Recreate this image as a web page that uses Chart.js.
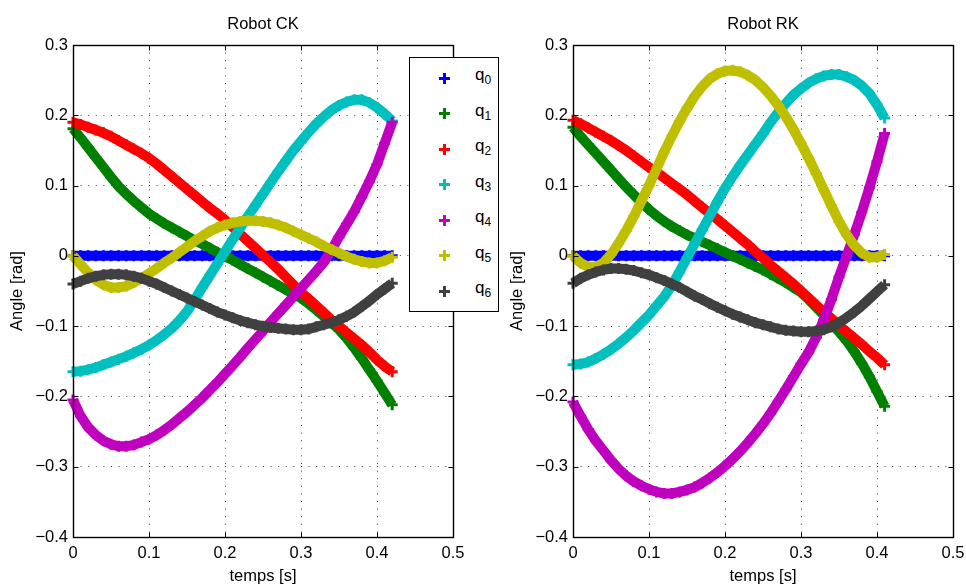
<!DOCTYPE html>
<html>
<head>
<meta charset="utf-8">
<script src="https://cdn.jsdelivr.net/npm/chart.js@4.4.1/dist/chart.umd.min.js"></script>
<style>
  body { margin:0; background:#fff; width:966px; height:586px; overflow:hidden; position:relative;
         font-family:'Liberation Sans', Arial, Helvetica, sans-serif; }
  .plot { position:absolute; top:0; width:466px; height:586px; }
  #legend { position:absolute; left:409px; top:57px; width:88px; height:253px; border:1px solid #000; background:#fff; }
  #legend .mk { position:absolute; left:29px; width:11px; height:11px; }
  #legend .lb { position:absolute; left:65px; font-size:17px; line-height:20px; color:#000; white-space:nowrap; }
  #legend sub { font-size:12px; vertical-align:-4px; line-height:0; }
</style>
</head>
<body>
<canvas id="ck" class="plot" style="left:0" width="466" height="586"></canvas>
<canvas id="rk" class="plot" style="left:500px" width="466" height="586"></canvas>
<div id="legend"></div>
<script>
// time samples (s)
const T_CK = [0,0.01,0.02,0.03,0.04,0.05,0.06,0.07,0.08,0.09,0.10,0.11,0.12,0.13,0.14,0.15,0.16,0.17,0.18,0.19,0.20,0.21,0.22,0.23,0.24,0.25,0.26,0.27,0.28,0.29,0.30,0.31,0.32,0.33,0.34,0.35,0.36,0.37,0.38,0.39,0.40,0.41,0.42];
const T_RK = [0,0.01,0.02,0.03,0.04,0.05,0.06,0.07,0.08,0.09,0.10,0.11,0.12,0.13,0.14,0.15,0.16,0.17,0.18,0.19,0.20,0.21,0.22,0.23,0.24,0.25,0.26,0.27,0.28,0.29,0.30,0.31,0.32,0.33,0.34,0.35,0.36,0.37,0.38,0.39,0.40,0.41];

// Robot CK joint angles (rad)
const CK_Q0 = [0,0,0,0,0,0,0,0,0,0,0,0,0,0,0,0,0,0,0,0,0,0,0,0,0,0,0,0,0,0,0,0,0,0,0,0,0,0,0,0,0,0,0];
const CK_Q1 = [0.181,0.168,0.154,0.140,0.126,0.112,0.099,0.088,0.078,0.069,0.060,0.053,0.046,0.040,0.034,0.028,0.022,0.017,0.011,0.005,-0.001,-0.006,-0.012,-0.018,-0.024,-0.030,-0.036,-0.042,-0.048,-0.054,-0.060,-0.068,-0.077,-0.086,-0.095,-0.105,-0.117,-0.131,-0.146,-0.162,-0.178,-0.195,-0.212];
const CK_Q2 = [0.190,0.187,0.183,0.179,0.175,0.170,0.164,0.158,0.152,0.146,0.139,0.131,0.122,0.113,0.104,0.095,0.086,0.077,0.068,0.060,0.051,0.041,0.031,0.021,0.011,0.001,-0.009,-0.019,-0.030,-0.041,-0.052,-0.061,-0.071,-0.081,-0.091,-0.100,-0.109,-0.118,-0.127,-0.137,-0.148,-0.157,-0.165];
const CK_Q3 = [-0.165,-0.164,-0.162,-0.159,-0.155,-0.151,-0.147,-0.143,-0.138,-0.133,-0.127,-0.120,-0.112,-0.103,-0.092,-0.079,-0.063,-0.045,-0.028,-0.011,0.006,0.023,0.040,0.056,0.072,0.088,0.104,0.120,0.135,0.150,0.163,0.176,0.188,0.198,0.207,0.214,0.219,0.222,0.222,0.218,0.211,0.202,0.192];
const CK_Q4 = [-0.205,-0.228,-0.244,-0.255,-0.263,-0.268,-0.271,-0.271,-0.269,-0.265,-0.261,-0.255,-0.248,-0.240,-0.231,-0.222,-0.212,-0.202,-0.191,-0.180,-0.168,-0.156,-0.144,-0.131,-0.119,-0.107,-0.094,-0.082,-0.070,-0.058,-0.046,-0.034,-0.022,-0.009,0.008,0.027,0.045,0.063,0.084,0.106,0.130,0.160,0.190];
const CK_Q5 = [0,-0.012,-0.024,-0.034,-0.041,-0.045,-0.045,-0.043,-0.038,-0.032,-0.025,-0.018,-0.010,-0.003,0.005,0.013,0.021,0.028,0.035,0.040,0.044,0.047,0.049,0.050,0.050,0.049,0.047,0.044,0.040,0.035,0.030,0.025,0.020,0.014,0.009,0.004,-0.001,-0.005,-0.008,-0.010,-0.010,-0.007,-0.002];
const CK_Q6 = [-0.040,-0.036,-0.032,-0.029,-0.027,-0.026,-0.026,-0.027,-0.029,-0.032,-0.036,-0.040,-0.045,-0.050,-0.055,-0.060,-0.065,-0.070,-0.075,-0.080,-0.084,-0.088,-0.092,-0.095,-0.098,-0.100,-0.102,-0.103,-0.104,-0.105,-0.105,-0.104,-0.101,-0.098,-0.095,-0.091,-0.086,-0.080,-0.072,-0.064,-0.055,-0.047,-0.039];

// Robot RK joint angles (rad)
const RK_Q0 = [0,0,0,0,0,0,0,0,0,0,0,0,0,0,0,0,0,0,0,0,0,0,0,0,0,0,0,0,0,0,0,0,0,0,0,0,0,0,0,0,0,0];
const RK_Q1 = [0.183,0.170,0.158,0.146,0.134,0.122,0.110,0.098,0.087,0.076,0.066,0.057,0.049,0.042,0.036,0.030,0.025,0.020,0.015,0.010,0.005,0.000,-0.005,-0.010,-0.015,-0.020,-0.026,-0.032,-0.038,-0.045,-0.052,-0.062,-0.073,-0.084,-0.096,-0.108,-0.121,-0.136,-0.153,-0.172,-0.193,-0.214];
const RK_Q2 = [0.193,0.188,0.182,0.176,0.170,0.164,0.157,0.150,0.142,0.134,0.126,0.119,0.111,0.103,0.095,0.087,0.078,0.069,0.060,0.052,0.043,0.034,0.025,0.016,0.006,-0.003,-0.013,-0.022,-0.031,-0.040,-0.050,-0.060,-0.070,-0.080,-0.089,-0.099,-0.108,-0.117,-0.126,-0.136,-0.145,-0.155];
const RK_Q3 = [-0.155,-0.154,-0.151,-0.146,-0.140,-0.133,-0.125,-0.116,-0.106,-0.095,-0.084,-0.071,-0.058,-0.042,-0.023,-0.003,0.017,0.037,0.057,0.077,0.096,0.113,0.129,0.144,0.159,0.174,0.190,0.204,0.217,0.229,0.238,0.246,0.252,0.256,0.258,0.258,0.255,0.250,0.242,0.231,0.215,0.196];
const RK_Q4 = [-0.208,-0.228,-0.247,-0.263,-0.277,-0.291,-0.303,-0.313,-0.321,-0.327,-0.332,-0.336,-0.338,-0.338,-0.336,-0.333,-0.329,-0.323,-0.316,-0.308,-0.299,-0.289,-0.278,-0.266,-0.253,-0.239,-0.224,-0.207,-0.190,-0.172,-0.154,-0.137,-0.116,-0.091,-0.062,-0.030,0.000,0.030,0.062,0.097,0.134,0.174];
const RK_Q5 = [0,-0.010,-0.016,-0.016,-0.010,0.002,0.018,0.036,0.056,0.078,0.100,0.124,0.148,0.170,0.191,0.210,0.227,0.241,0.252,0.259,0.263,0.264,0.262,0.257,0.250,0.240,0.228,0.214,0.198,0.180,0.160,0.139,0.117,0.094,0.071,0.049,0.030,0.015,0.004,-0.002,-0.002,0.002];
const RK_Q6 = [-0.039,-0.032,-0.027,-0.023,-0.020,-0.018,-0.018,-0.019,-0.021,-0.024,-0.027,-0.031,-0.035,-0.040,-0.045,-0.051,-0.057,-0.062,-0.068,-0.073,-0.078,-0.083,-0.087,-0.091,-0.095,-0.098,-0.101,-0.104,-0.106,-0.107,-0.108,-0.108,-0.107,-0.105,-0.101,-0.095,-0.088,-0.080,-0.071,-0.061,-0.051,-0.041];

const SERIES = ['q0','q1','q2','q3','q4','q5','q6'];
const COLORS = ['#0000ff','#008000','#ff0000','#00bfbf','#bf00bf','#bfbf00','#404040'];

const X_TICKS = [0,0.1,0.2,0.3,0.4,0.5];
const X_TICK_LABELS = ['0','0.1','0.2','0.3','0.4','0.5'];
const Y_TICKS = [-0.4,-0.3,-0.2,-0.1,0,0.1,0.2,0.3];
const Y_TICK_LABELS = ['\u22120.4','\u22120.3','\u22120.2','\u22120.1','0','0.1','0.2','0.3'];

const FONT = { family:"'Liberation Sans', Arial, Helvetica, sans-serif", size:16.5 };

const tickLabel = (ticks, labels) => (v) => {
  const i = ticks.findIndex(t => Math.abs(t - v) < 1e-9);
  return i < 0 ? '' : labels[i];
};

// axes box, inward ticks and the title, MATLAB style
const matlabBox = {
  id: 'matlabBox',
  afterDatasetsDraw(chart, args, opts) {
    const { ctx, chartArea: a, scales: { x, y } } = chart;
    const L = Math.round(a.left) + 0.5, R = Math.round(a.right) + 0.5;
    const T = Math.round(a.top) + 0.5, B = Math.round(a.bottom) + 0.5;
    ctx.save();
    ctx.strokeStyle = '#000';
    ctx.lineWidth = 1.4;
    ctx.strokeRect(L, T, R - L, B - T);
    ctx.lineWidth = 1;
    ctx.beginPath();
    X_TICKS.forEach(v => {
      const p = Math.round(x.getPixelForValue(v)) + 0.5;
      ctx.moveTo(p, B); ctx.lineTo(p, B - 5);
      ctx.moveTo(p, T); ctx.lineTo(p, T + 5);
    });
    Y_TICKS.forEach(v => {
      const p = Math.round(y.getPixelForValue(v)) + 0.5;
      ctx.moveTo(L, p); ctx.lineTo(L + 5, p);
      ctx.moveTo(R, p); ctx.lineTo(R - 5, p);
    });
    ctx.stroke();
    ctx.fillStyle = '#000';
    ctx.font = `${FONT.size}px ${FONT.family}`;
    ctx.textAlign = 'center';
    ctx.textBaseline = 'middle';
    ctx.fillText(opts.text, (a.left + a.right) / 2, 24);
    ctx.restore();
  }
};

const makeChart = (id, times, series, title) => {
  const datasets = series.map((vals, i) => ({
    label: SERIES[i],
    data: times.map((t, k) => ({ x: t, y: vals[k] })),
    borderColor: COLORS[i],
    backgroundColor: COLORS[i],
    borderWidth: 10,
    pointStyle: 'cross',
    pointRadius: 5.5,
    pointHoverRadius: 5.5,
    pointBorderWidth: 3,
    pointBorderColor: COLORS[i],
    tension: 0,
    clip: false,
    order: SERIES.length - i
  }));
  return new Chart(document.getElementById(id), {
    type: 'line',
    data: { datasets },
    plugins: [matlabBox],
    options: {
      responsive: false, animation: false, events: [],
      layout: { padding: { left: 0, right: 13, top: 45, bottom: 0 } },
      plugins: { legend: { display: false }, tooltip: { enabled: false }, matlabBox: { text: title } },
      scales: {
        x: {
          type: 'linear', min: 0, max: 0.5,
          afterBuildTicks: s => { s.ticks = X_TICKS.map(v => ({ value: v })); },
          afterFit: s => { s.height = 49; s.paddingLeft = 0; s.paddingRight = 0; },
          ticks: { callback: tickLabel(X_TICKS, X_TICK_LABELS), font: FONT, color: '#000', padding: 7, maxRotation: 0, autoSkip: false },
          grid: { color: 'rgba(0,0,0,0.75)', lineWidth: 1, drawTicks: false },
          border: { display: false, dash: [1, 6.6] },
          title: { display: true, text: 'temps [s]', font: FONT, color: '#000', padding: { top: 0, bottom: 0 } }
        },
        y: {
          type: 'linear', min: -0.4, max: 0.3,
          afterBuildTicks: s => { s.ticks = Y_TICKS.map(v => ({ value: v })); },
          afterFit: s => { s.width = 73; s.paddingTop = 0; s.paddingBottom = 0; },
          ticks: { callback: tickLabel(Y_TICKS, Y_TICK_LABELS), font: FONT, color: '#000', padding: 5, autoSkip: false },
          grid: { color: 'rgba(0,0,0,0.75)', lineWidth: 1, drawTicks: false },
          border: { display: false, dash: [1, 6.6] },
          title: { display: true, text: 'Angle [rad]', font: FONT, color: '#000', padding: { top: 8, bottom: 0 } }
        }
      }
    }
  });
};

makeChart('ck', T_CK, [CK_Q0, CK_Q1, CK_Q2, CK_Q3, CK_Q4, CK_Q5, CK_Q6], 'Robot CK');
makeChart('rk', T_RK, [RK_Q0, RK_Q1, RK_Q2, RK_Q3, RK_Q4, RK_Q5, RK_Q6], 'Robot RK');

// legend box (sits over the gap between the two axes, as in the figure)
document.getElementById('legend').innerHTML = SERIES.map((s, i) => {
  const cy = 20.3 + 35.5 * i;
  return `<svg class="mk" style="top:${cy - 5.5}px" viewBox="0 0 11 11"><path d="M5.5 0V11M0 5.5H11" stroke="${COLORS[i]}" stroke-width="3"/></svg>` +
         `<div class="lb" style="top:${cy - 13}px">${s[0]}<sub>${s.slice(1)}</sub></div>`;
}).join('');
</script>
</body>
</html>
